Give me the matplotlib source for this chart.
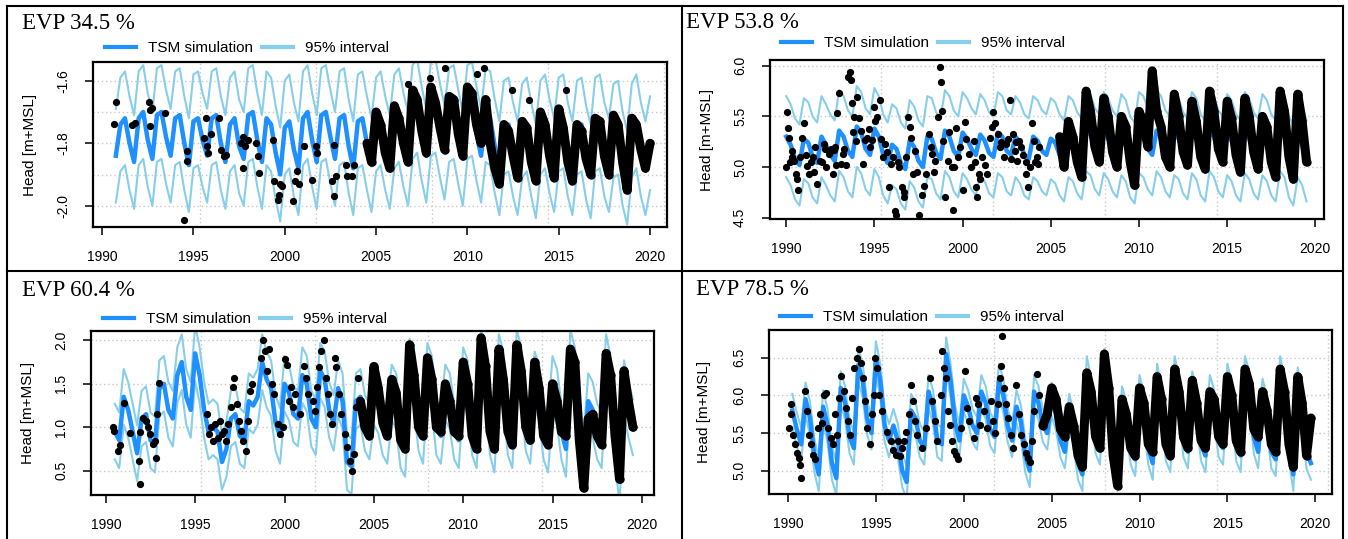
import matplotlib.pyplot as plt
from matplotlib.lines import Line2D
import numpy as np

W, H = 1348, 539
BLUE = '#1E90FF'
LIGHT = '#87CEEB'

evp_labels = ["EVP 34.5 %", "EVP 53.8 %", "EVP 60.4 %", "EVP 78.5 %"]
year_ticks = [1990, 1995, 2000, 2005, 2010, 2015, 2020]
grid_years = [1995.35, 2001.7, 2008.05, 2014.4, 2020.75]

# ---------------- panel 1 (EVP 34.5 %) ----------------
sim1_start = 1990.75
sim1 = [-1.84,
        -1.74, -1.72, -1.80, -1.86,  -1.72, -1.70, -1.79, -1.85,
        -1.71, -1.70, -1.78, -1.84,  -1.72, -1.71, -1.80, -1.87,
        -1.73, -1.72, -1.79, -1.84,  -1.72, -1.71, -1.80, -1.86,
        -1.74, -1.72, -1.81, -1.85,  -1.71, -1.70, -1.79, -1.86,
        -1.72, -1.74, -1.83, -1.90,  -1.75, -1.73, -1.82, -1.88,
        -1.72, -1.70, -1.79, -1.86,  -1.71, -1.70, -1.78, -1.85,
        -1.72, -1.71, -1.81, -1.88,  -1.73, -1.72, -1.80, -1.87,
        -1.74, -1.72, -1.80, -1.86,  -1.73, -1.71, -1.79, -1.85,
        -1.70, -1.68, -1.77, -1.84,  -1.69, -1.68, -1.76, -1.83,
        -1.71, -1.70, -1.78, -1.85,  -1.70, -1.69, -1.77, -1.84,
        -1.71, -1.72, -1.81, -1.88,  -1.75, -1.74, -1.82, -1.88,
        -1.76, -1.74, -1.82, -1.89,  -1.75, -1.73, -1.81, -1.87,
        -1.74, -1.73, -1.82, -1.88,  -1.75, -1.74, -1.83, -1.89,
        -1.74, -1.73, -1.82, -1.87,  -1.76, -1.75, -1.85, -1.91,
        -1.76, -1.73, -1.82, -1.88,
        -1.80]
band1 = 0.15
obs1_t = [1990.67, 1990.78, 1991.66, 1991.80, 1992.57, 1992.60, 1992.62, 1992.73,
          1993.44, 1994.50, 1994.63, 1994.65, 1995.60, 1995.70, 1995.72, 1995.80,
          1995.94, 1996.40, 1996.53, 1996.65, 1996.77, 1997.60, 1997.72, 1997.74,
          1997.84, 1997.96, 1998.43, 1998.55, 1998.60, 1999.38, 1999.43, 1999.62,
          1999.70, 1999.74, 1999.86, 2000.45, 2000.57, 2000.69, 2000.80, 2001.05,
          2001.50, 2001.70, 2001.75, 2002.60, 2002.70, 2002.72, 2002.83, 2003.37,
          2003.42, 2003.66, 2003.78,
          2006.75, 2007.93, 2008.77, 2010.55, 2010.90, 2012.45, 2013.40, 2015.40]
obs1_v = [-1.739, -1.669, -1.741, -1.736, -1.667, -1.693, -1.746, -1.688,
          -1.704, -2.047, -1.826, -1.858, -1.784, -1.720, -1.810, -1.830,
          -1.770, -1.720, -1.820, -1.842, -1.837, -1.800, -1.780, -1.880,
          -1.810, -1.790, -1.800, -1.842, -1.895, -1.790, -1.920, -1.980,
          -1.965, -1.930, -1.937, -1.985, -1.920, -1.890, -1.930, -1.810,
          -1.916, -1.810, -1.830, -1.920, -1.805, -1.970, -1.906, -1.868,
          -1.906, -1.906, -1.868,
          -1.610, -1.590, -1.560, -1.577, -1.560, -1.630, -1.660, -1.630]
dense1_start = 2004.5
dense1 = [-1.80, -1.86,
          -1.70, -1.74, -1.83, -1.88,  -1.68, -1.72, -1.80, -1.86,
          -1.63, -1.66, -1.76, -1.83,  -1.62, -1.67, -1.75, -1.82,
          -1.65, -1.66, -1.77, -1.84,  -1.62, -1.64, -1.74, -1.80,
          -1.66, -1.80, -1.88, -1.93,  -1.74, -1.76, -1.84, -1.91,
          -1.73, -1.75, -1.86, -1.92,  -1.70, -1.74, -1.84, -1.91,
          -1.69, -1.75, -1.86, -1.92,  -1.74, -1.76, -1.85, -1.90,
          -1.72, -1.73, -1.84, -1.90,  -1.71, -1.74, -1.86, -1.95,
          -1.72, -1.74, -1.82, -1.88,
          -1.80]

# ---------------- panel 2 (EVP 53.8 %) ----------------
sim2_start = 1990.0
sim2 = [5.30, 5.22, 5.08, 5.02,  5.28, 5.24, 5.10, 5.04,  5.30, 5.22, 5.12, 5.06,
        5.36, 5.30, 5.16, 5.10,  5.40, 5.34, 5.18, 5.12,  5.38, 5.30, 5.12, 5.04,
        5.22, 5.18, 5.04, 4.98,  5.26, 5.20, 5.06, 5.00,  5.30, 5.28, 5.14, 5.08,
        5.36, 5.30, 5.16, 5.10,  5.34, 5.28, 5.18, 5.12,  5.32, 5.26, 5.14, 5.10,
        5.34, 5.30, 5.16, 5.12,  5.30, 5.24, 5.12, 5.08,  5.30, 5.26, 5.16, 5.12,
        5.28, 5.24, 5.12, 5.06,  5.30, 5.26, 5.14, 5.08,  5.36, 5.32, 5.18, 5.12,
        5.34, 5.28, 5.16, 5.10,  5.32, 5.26, 5.10, 5.04,  5.34, 5.30, 5.18, 5.12,
        5.36, 5.30, 5.16, 5.10,  5.32, 5.28, 5.14, 5.08,  5.34, 5.28, 5.12, 5.06,
        5.36, 5.30, 5.16, 5.10,  5.32, 5.26, 5.12, 5.06,  5.34, 5.28, 5.14, 5.08,
        5.32, 5.26, 5.12, 5.06,  5.36, 5.30, 5.10, 5.02,  5.30, 5.22, 5.06]
band2 = 0.40
obs2_t = [1990.00, 1990.05, 1990.10, 1990.17, 1990.30, 1990.42, 1990.54, 1990.66,
          1990.80, 1990.90, 1991.03, 1991.16, 1991.28, 1991.52, 1991.65, 1991.77,
          1991.90, 1992.14, 1992.26, 1992.40, 1992.63, 1992.75, 1992.88, 1993.00,
          1993.12, 1993.24, 1993.50, 1993.60, 1993.70, 1993.74, 1993.86, 1993.94,
          1994.03, 1994.23, 1994.35, 1994.60, 1994.77, 1994.97, 1995.16, 1995.29,
          1995.46, 1995.58, 1995.83, 1995.95, 1996.15, 1996.25, 1996.40, 1996.57,
          1996.70, 1996.80, 1996.93, 1997.06, 1997.18, 1997.30, 1997.55, 1997.67,
          1997.80, 1997.92, 1998.10, 1998.29, 1998.46, 1998.60, 1998.70, 1998.78,
          1998.90, 1999.02, 1999.15, 1999.39, 1999.44, 1999.64, 1999.76, 1999.88,
          2000.00, 2000.13, 2000.38, 2000.50, 2000.62, 2000.75, 2000.82, 2000.92,
          2001.11, 2001.36, 2001.56, 2001.73, 2001.85, 2002.00, 2002.10, 2002.34,
          2002.47, 2002.70, 2002.83, 2002.96, 2003.08, 2003.20, 2003.33, 2003.57,
          2003.70, 2003.82, 2003.94, 2004.06, 2004.20, 2004.30,
          1990.20, 1990.35, 1990.60, 1991.10, 1991.40, 1991.60, 1992.00, 1992.20,
          1992.50, 1992.55, 1992.70, 1992.80, 1993.30, 1993.40, 1993.80, 1994.10,
          1994.45, 1994.70, 1994.85, 1995.05, 1995.40, 1995.70, 1996.05, 1996.35,
          1996.65, 1997.00, 1997.40, 1998.20, 1998.40, 1998.85, 1999.25, 1999.50,
          2000.20, 2000.70, 2001.00, 2001.25, 2001.65, 2002.20, 2002.60, 2002.75,
          2003.00, 2003.45, 2003.60, 2004.10, 2004.35]
obs2_v = [5.00, 5.54, 5.39, 5.29, 5.16, 5.06, 4.93, 4.77,
          5.10, 5.29, 5.43, 5.01, 4.93, 5.10, 5.20, 4.83,
          5.06, 5.23, 5.00, 5.13, 4.93, 5.20, 5.53, 5.73,
          5.03, 5.13, 5.89, 5.94, 5.86, 5.63, 5.49, 5.26,
          5.69, 5.36, 5.03, 5.29, 5.20, 5.59, 5.49, 5.66,
          5.10, 5.23, 4.80, 5.03, 4.57, 4.53, 5.00, 4.80,
          4.70, 5.10, 5.49, 5.29, 4.93, 5.16, 4.53, 4.72,
          4.81, 4.93, 5.33, 5.13, 5.06, 5.49, 5.99, 5.84,
          5.26, 4.70, 5.06, 5.00, 4.58, 5.39, 5.10, 5.20,
          4.77, 5.44, 5.13, 5.00, 5.26, 4.80, 4.70, 4.93,
          5.10, 4.93, 5.29, 5.54, 5.43, 5.33, 5.20, 5.10,
          5.23, 5.66, 5.33, 5.16, 5.06, 5.26, 5.20, 4.93,
          4.80, 5.00, 5.43, 5.26, 5.10, 5.03,
          5.05, 5.10, 4.88, 5.12, 5.05, 4.95, 5.05, 5.18,
          5.15, 5.18, 5.17, 5.02, 5.18, 5.02, 5.35, 5.48,
          5.27, 5.38, 5.27, 5.45, 5.28, 5.15, 5.10, 5.05,
          4.75, 5.40, 4.95, 5.20, 4.95, 5.55, 5.35, 5.00,
          5.28, 5.05, 4.88, 5.02, 5.40, 5.25, 5.28, 5.08,
          5.25, 5.12, 5.05, 5.05, 5.20]
dense2_start = 2005.5
dense2 = [5.30, 5.00,
          5.45, 5.30, 5.05, 4.90,  5.75, 5.55, 5.20, 5.05,  5.68, 5.50, 5.15, 5.00,
          5.50, 5.40, 5.05, 4.82,  5.55, 5.45, 5.20, 5.95,  5.55, 5.40, 5.10, 5.00,
          5.72, 5.50, 5.15, 5.02,  5.65, 5.45, 5.10, 4.98,  5.75, 5.55, 5.18, 5.05,
          5.65, 5.48, 5.12, 4.95,  5.68, 5.50, 5.15, 4.98,  5.50, 5.40, 5.05, 4.90,
          5.75, 5.55, 5.10, 4.88,
          5.72, 5.45, 5.05]

# ---------------- panel 3 (EVP 60.4 %) ----------------
sim3_start = 1990.5
sim3 = [0.95, 0.85,
        1.35, 1.20, 0.95, 0.70,  1.10, 1.15, 0.85, 0.80,  1.45, 1.50, 1.20, 1.10,
        1.60, 1.75, 1.35, 1.20,  1.85, 1.60, 1.20, 0.95,  1.00, 0.95, 0.60, 0.75,
        1.10, 1.15, 0.90, 0.85,  1.30, 1.25, 1.35, 1.75,  1.55, 1.45, 1.05, 0.90,
        1.50, 1.40, 1.15, 1.10,  1.60, 1.50, 1.10, 1.00,  1.65, 1.55, 1.20, 1.05,
        1.45, 1.30, 0.60, 0.55,  1.30, 1.35, 1.05, 0.95,  1.35, 1.25, 1.00, 0.90,
        1.40, 1.30, 0.85, 0.75,  1.70, 1.55, 1.05, 0.90,  1.65, 1.50, 1.00, 0.90,
        1.40, 1.30, 0.95, 0.85,  1.60, 1.45, 1.00, 0.85,  1.80, 1.65, 1.00, 0.80,
        1.75, 1.55, 1.00, 0.85,  1.80, 1.60, 1.05, 0.90,  1.55, 1.40, 0.95, 0.80,
        1.50, 1.35, 0.95, 0.75,  1.80, 1.60, 1.05, 0.60,  1.30, 1.20, 0.95, 0.85,
        1.75, 1.50, 0.90, 0.45,
        1.45, 1.20, 1.00]
band3 = 0.32
obs3_t = [1990.39, 1990.48, 1990.68, 1990.80, 1991.04, 1991.36, 1991.84, 1991.89,
          1991.94, 1992.08, 1992.25, 1992.37, 1992.50, 1992.62, 1992.74, 1992.81,
          1992.86, 1992.98, 1995.65, 1995.77, 1995.89, 1996.00, 1996.13, 1996.25,
          1996.37, 1996.50, 1996.60, 1996.74, 1996.86, 1997.00, 1997.10, 1997.20,
          1997.34, 1997.46, 1997.58, 1997.70, 1997.83, 1997.95, 1998.07, 1998.20,
          1998.68, 1998.80, 1998.92, 1999.04, 1999.16, 1999.28, 1999.40, 1999.64,
          1999.77, 1999.90, 2000.00, 2000.13, 2000.25, 2000.37, 2000.50, 2000.61,
          2000.86, 2001.10, 2001.22, 2001.34, 2001.58, 2001.70, 2001.82, 2001.95,
          2002.07, 2002.19, 2002.30, 2002.43, 2002.55, 2002.67, 2002.80, 2002.90,
          2003.04, 2003.16, 2003.40, 2003.52, 2003.64, 2003.76, 2003.88, 2004.00,
          2004.13]
obs3_v = [1.00, 0.96, 0.73, 0.79, 1.28, 0.93, 0.61, 0.35,
          0.94, 1.11, 1.07, 1.00, 0.92, 0.81, 0.84, 0.65,
          1.15, 1.51, 1.15, 0.92, 1.00, 0.84, 1.04, 0.88,
          1.07, 0.92, 0.96, 0.84, 1.04, 1.23, 1.46, 1.57,
          1.27, 1.07, 0.96, 0.84, 0.73, 1.07, 1.42, 1.50,
          1.80, 2.00, 1.88, 1.65, 1.90, 1.50, 1.38, 1.04,
          0.92, 1.00, 1.78, 1.72, 1.30, 1.46, 1.23, 1.38,
          1.15, 1.71, 1.57, 1.38, 1.30, 1.19, 1.46, 1.69,
          1.88, 2.00, 1.57, 1.38, 1.15, 1.04, 1.80, 1.69,
          1.38, 1.15, 0.92, 0.77, 0.61, 0.50, 0.69, 1.23,
          1.57]
dense3_start = 2004.25
dense3 = [1.30, 1.00, 0.90,
          1.70, 1.45, 1.05, 0.90,  1.55, 1.40, 0.85, 0.75,  1.95, 1.60, 1.00, 0.90,
          1.80, 1.55, 1.00, 0.95,  1.50, 1.30, 0.95, 0.90,  1.75, 1.50, 0.90, 0.75,
          2.03, 1.70, 0.95, 0.75,  1.90, 1.55, 0.95, 0.80,  1.95, 1.65, 1.00, 0.85,
          1.75, 1.45, 0.90, 0.80,  1.50, 1.30, 0.95, 0.90,  1.90, 1.75, 0.85, 0.30,
          1.10, 1.15, 0.90, 0.80,  1.85, 1.60, 0.90, 0.40,
          1.65, 1.30, 1.00]

# ---------------- panel 4 (EVP 78.5 %) ----------------
sim4_start = 1990.25
sim4 = [5.80, 5.55, 5.35,
        5.95, 5.70, 5.20, 4.95,  5.85, 5.60, 5.10, 4.90,  6.10, 5.90, 5.45, 5.30,
        6.40, 6.20, 5.70, 5.50,  6.50, 6.20, 5.60, 5.40,  5.60, 5.40, 5.00, 4.85,
        5.80, 5.70, 5.40, 5.30,  6.05, 5.85, 5.40, 5.35,  6.55, 6.20, 5.65, 5.40,
        6.00, 5.85, 5.60, 5.50,  6.05, 5.90, 5.55, 5.45,  6.20, 6.00, 5.60, 5.40,
        5.85, 5.65, 5.20, 5.00,  6.05, 5.90, 5.60, 5.50,  5.95, 5.75, 5.40, 5.25,
        5.80, 5.55, 5.10, 4.95,  6.30, 6.00, 5.45, 5.30,  6.40, 6.00, 5.20, 4.95,
        5.90, 5.70, 5.30, 5.15,  6.05, 5.80, 5.30, 5.10,  6.20, 5.90, 5.35, 5.20,
        6.30, 6.00, 5.40, 5.25,  6.10, 5.85, 5.35, 5.20,  6.05, 5.85, 5.40, 5.30,
        6.20, 5.95, 5.35, 5.20,  6.30, 6.10, 5.45, 5.25,  6.00, 5.75, 5.25, 5.15,
        6.30, 6.00, 5.35, 4.95,  6.15, 5.80, 5.25, 5.10]
band4 = 0.22
obs4_t = [1990.07, 1990.15, 1990.20, 1990.27, 1990.40, 1990.50, 1990.60, 1990.69,
          1990.76, 1990.94, 1991.06, 1991.18, 1991.30, 1991.43, 1991.55, 1991.68,
          1991.80, 1991.92, 1992.05, 1992.17, 1992.30, 1992.42, 1992.54, 1992.66,
          1992.79, 1992.90, 1993.03, 1993.16, 1993.28, 1993.40, 1993.53, 1993.65,
          1993.77, 1993.90, 1994.02, 1994.14, 1994.27, 1994.39, 1994.51, 1994.64,
          1994.76, 1994.88, 1994.96, 1995.08, 1995.18, 1995.33, 1995.63, 1995.87,
          1996.00, 1996.12, 1996.24, 1996.37, 1996.50, 1996.60, 1996.74, 1996.86,
          1996.98, 1997.10, 1997.23, 1997.35, 1997.60, 1997.85, 1998.10, 1998.20,
          1998.34, 1998.46, 1998.71, 1998.78, 1998.88, 1998.98, 1999.08, 1999.20,
          1999.33, 1999.45, 1999.57, 1999.70, 1999.82, 2000.07, 2000.20, 2000.30,
          2000.56, 2000.68, 2000.80, 2000.93, 2001.18, 2001.30, 2001.55, 2001.67,
          2001.80, 2001.92, 2002.04, 2002.11, 2002.16, 2002.29, 2002.41, 2002.53,
          2002.66, 2002.78, 2002.98, 2003.15, 2003.27, 2003.40, 2003.52, 2003.64,
          2003.77, 2003.90, 2004.00, 2004.14, 2004.26]
obs4_v = [5.57, 5.75, 5.88, 5.48, 5.35, 5.24, 5.17, 5.08,
          4.90, 6.06, 5.79, 5.48, 5.35, 5.21, 5.15, 5.57,
          5.75, 5.63, 6.01, 6.03, 5.57, 5.43, 5.35, 5.75,
          5.48, 5.97, 6.26, 6.06, 5.83, 5.66, 5.48, 5.97,
          6.37, 6.50, 6.61, 6.43, 6.23, 5.92, 5.57, 5.35,
          5.75, 6.01, 6.50, 6.37, 6.01, 5.79, 5.52, 5.39,
          5.28, 5.21, 5.39, 5.19, 5.30, 5.39, 5.52, 5.75,
          6.14, 5.92, 5.66, 5.48, 5.30, 5.57, 6.23, 5.92,
          5.66, 5.39, 6.01, 6.59, 6.37, 6.23, 5.79, 5.61,
          5.39, 5.26, 5.21, 5.15, 5.57, 6.32, 5.83, 5.66,
          5.43, 5.97, 5.88, 5.61, 5.79, 5.57, 5.92, 5.66,
          5.50, 5.88, 6.23, 6.39, 6.79, 6.10, 5.88, 5.70,
          5.48, 5.30, 6.14, 5.75, 5.48, 5.35, 5.24, 5.17,
          5.12, 5.39, 5.79, 6.28, 6.01]
dense4_start = 2004.5
dense4 = [5.60, 5.75,
          6.10, 5.95, 5.55, 5.45,  5.85, 5.60, 5.20, 5.05,  6.30, 6.05, 5.45, 5.30,
          6.55, 6.10, 5.20, 4.80,  5.95, 5.75, 5.30, 5.20,  6.10, 5.90, 5.35, 5.25,
          6.25, 5.95, 5.35, 5.20,  6.35, 6.05, 5.45, 5.30,  6.20, 5.90, 5.40, 5.30,
          6.05, 5.95, 5.45, 5.35,  6.25, 6.00, 5.40, 5.25,  6.35, 6.15, 5.55, 5.45,
          6.05, 5.80, 5.35, 5.25,  6.35, 6.05, 5.35, 5.05,  6.25, 5.90, 5.20, 5.70]

panels = [
    dict(sim_start=sim1_start, sim=sim1, band=band1, obs_t=obs1_t, obs_v=obs1_v,
         dense_start=dense1_start, dense=dense1,
         box=(93, 62, 667, 227), xlim=(1989.5, 2020.93), ylim=(-2.068, -1.54),
         yticks=[-2.0, -1.8, -1.6], ygrid=[-2.0, -1.9, -1.8, -1.7, -1.6],
         evp=(22, 29), legend=(105, 48), ylab_x=30),
    dict(sim_start=sim2_start, sim=sim2, band=band2, obs_t=obs2_t, obs_v=obs2_v,
         dense_start=dense2_start, dense=dense2,
         box=(770, 60, 1324, 219), xlim=(1989.08, 2020.49), ylim=(4.487, 6.057),
         yticks=[4.5, 5.0, 5.5, 6.0], ygrid=[4.5, 5.0, 5.5, 6.0],
         evp=(686, 28), legend=(781, 43), ylab_x=707),
    dict(sim_start=sim3_start, sim=sim3, band=band3, obs_t=obs3_t, obs_v=obs3_v,
         dense_start=dense3_start, dense=dense3,
         box=(91, 331, 654, 495), xlim=(1989.17, 2020.68), ylim=(0.22, 2.108),
         yticks=[0.5, 1.0, 1.5, 2.0], ygrid=[0.5, 1.0, 1.5, 2.0],
         evp=(22, 296), legend=(103, 319), ylab_x=28),
    dict(sim_start=sim4_start, sim=sim4, band=band4, obs_t=obs4_t, obs_v=obs4_v,
         dense_start=dense4_start, dense=dense4,
         box=(769, 330, 1332, 494), xlim=(1988.92, 2020.95), ylim=(4.69, 6.869),
         yticks=[5.0, 5.5, 6.0, 6.5], ygrid=[5.0, 5.5, 6.0, 6.5],
         evp=(696, 295), legend=(780, 317), ylab_x=704),
]

plt.rcParams['font.family'] = 'Liberation Sans'
plt.rcParams['axes.unicode_minus'] = False

fig = plt.figure(figsize=(W / 100, H / 100), dpi=100)

for p, label in zip(panels, evp_labels):
    x0, y0, x1, y1 = p['box']
    ax = fig.add_axes([x0 / W, 1 - y1 / H, (x1 - x0) / W, (y1 - y0) / H])

    # dotted grid
    for gy in p['ygrid']:
        ax.axhline(gy, color='#c8c8c8', ls=(0, (1, 2)), lw=1, zorder=0)
    for gx in grid_years:
        ax.axvline(gx, color='#c8c8c8', ls=(0, (1, 2)), lw=1, zorder=0)

    t = p['sim_start'] + 0.25 * np.arange(len(p['sim']))
    s = np.array(p['sim'])
    ax.plot(t, s + p['band'], color=LIGHT, lw=1.5, zorder=1)
    ax.plot(t, s - p['band'], color=LIGHT, lw=1.5, zorder=1)
    ax.plot(t, s, color=BLUE, lw=3.2, zorder=2)

    td = p['dense_start'] + 0.25 * np.arange(len(p['dense']))
    ax.plot(td, p['dense'], color='black', lw=6.5, marker='o', ms=5,
            solid_joinstyle='round', solid_capstyle='round', zorder=3)
    ax.plot(p['obs_t'], p['obs_v'], 'o', color='black', ms=4.2, zorder=3)

    ax.set_xlim(p['xlim'])
    ax.set_ylim(p['ylim'])
    ax.set_xticks(year_ticks)
    ax.set_yticks(p['yticks'])
    ax.set_yticklabels([f"{v:.1f}" for v in p['yticks']], rotation=90, va='center')
    ax.tick_params(length=5.5, width=1.1, pad=11, labelsize=10)
    for sp in ax.spines.values():
        sp.set_linewidth(1.6)

    fig.text(p['ylab_x'] / W, 1 - (y0 + y1) / 2 / H, "Head [m+MSL]",
             rotation=90, ha='center', va='center', fontsize=11)
    fig.text(p['evp'][0] / W, 1 - p['evp'][1] / H, label,
             family='Liberation Serif', fontsize=16.5, va='baseline')

    handles = [Line2D([], [], color=BLUE, lw=3), Line2D([], [], color=LIGHT, lw=3)]
    ax.legend(handles, ["TSM simulation", "95% interval"], ncol=2,
              loc='center left', bbox_to_anchor=(p['legend'][0] / W, 1 - p['legend'][1] / H),
              bbox_transform=fig.transFigure, frameon=False, borderpad=0,
              borderaxespad=0, handlelength=2.0, handletextpad=0.8,
              columnspacing=0.6, fontsize=11)

# table borders
for x in [7, 682, 1343]:
    fig.add_artist(Line2D([x / W, x / W], [1 - 6 / H, 0], color='black', lw=1.5))
for y in [6, 271]:
    fig.add_artist(Line2D([7 / W, 1343 / W], [1 - y / H, 1 - y / H], color='black', lw=1.5))

fig.savefig("out.png", dpi=100)
